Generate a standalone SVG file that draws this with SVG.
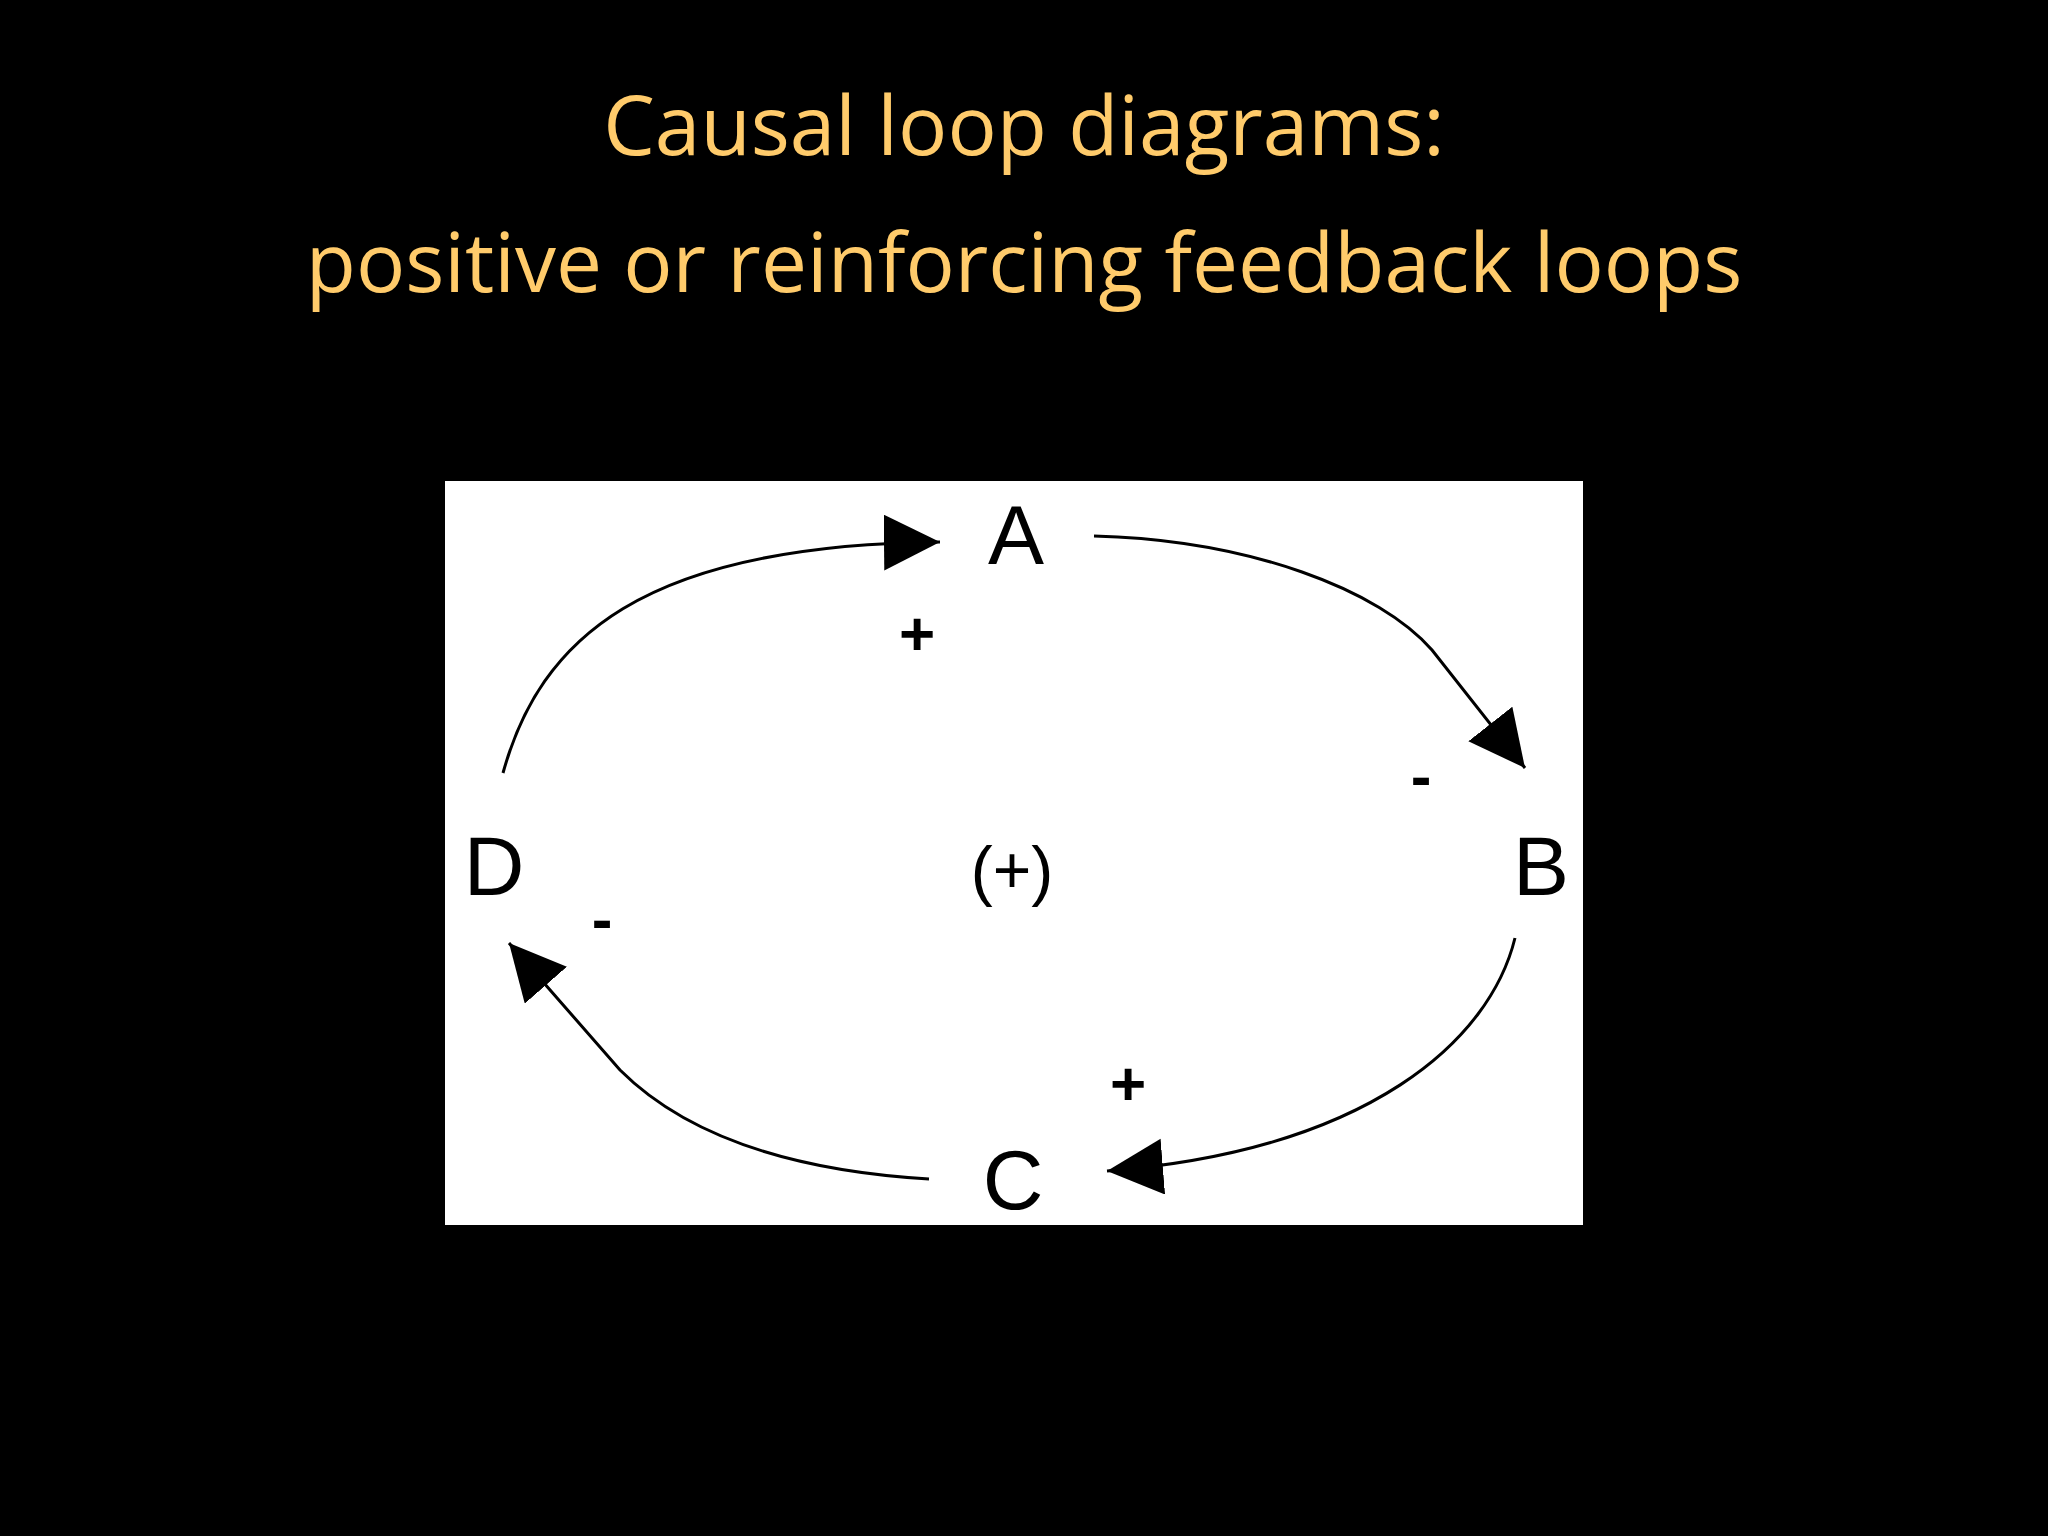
<svg xmlns="http://www.w3.org/2000/svg" width="2048" height="1536" viewBox="0 0 2048 1536">
<style>
.t{font-family:"Open Sans","Liberation Sans",sans-serif;fill:#FFCB6B;font-size:82px;text-anchor:middle}
.n{font-family:"Liberation Sans",sans-serif;fill:#000;font-size:84px;text-anchor:middle}
.s{font-family:"Liberation Sans",sans-serif;fill:#000;font-size:62px;font-weight:bold;text-anchor:middle}
.c{fill:none;stroke:#000;stroke-width:3}
</style>
<defs>
<marker id="ah" markerUnits="userSpaceOnUse" markerWidth="60" markerHeight="60" refX="56" refY="28" orient="auto">
<path d="M0,0 L56,28 L0,56 Z" fill="#000"/>
</marker>
</defs>
<rect width="2048" height="1536" fill="#000"/>
<text class="t" x="1024" y="155">Causal loop diagrams:</text>
<text class="t" x="1024" y="292">positive or reinforcing feedback loops</text>
<rect x="445" y="481" width="1138" height="744" fill="#fff"/>
<g id="connectors">
<path class="c" d="M1094,536 C1250,540 1380,590 1432,650 L1525,768" marker-end="url(#ah)"/>
<path class="c" d="M1515,938 C1490,1040 1370,1150 1107,1171" marker-end="url(#ah)"/>
<path class="c" d="M929,1179 C780,1170 680,1130 620,1070 L509,943" marker-end="url(#ah)"/>
<path class="c" d="M503,773 C540,640 640,545 940,542" marker-end="url(#ah)"/>
</g>
<g id="A"><text class="n" x="1016" y="564">A</text></g>
<g id="B"><text class="n" x="1541" y="895">B</text></g>
<g id="C"><text class="n" x="1013" y="1209">C</text></g>
<g id="D"><text class="n" x="494" y="895">D</text></g>
<g id="loop"><text class="n" x="1012" y="893" style="font-size:66px">(+)</text></g>
<text class="s" x="917" y="655">+</text>
<text class="s" x="1421" y="797">-</text>
<text class="s" x="1128" y="1105">+</text>
<text class="s" x="602" y="940">-</text>
</svg>
